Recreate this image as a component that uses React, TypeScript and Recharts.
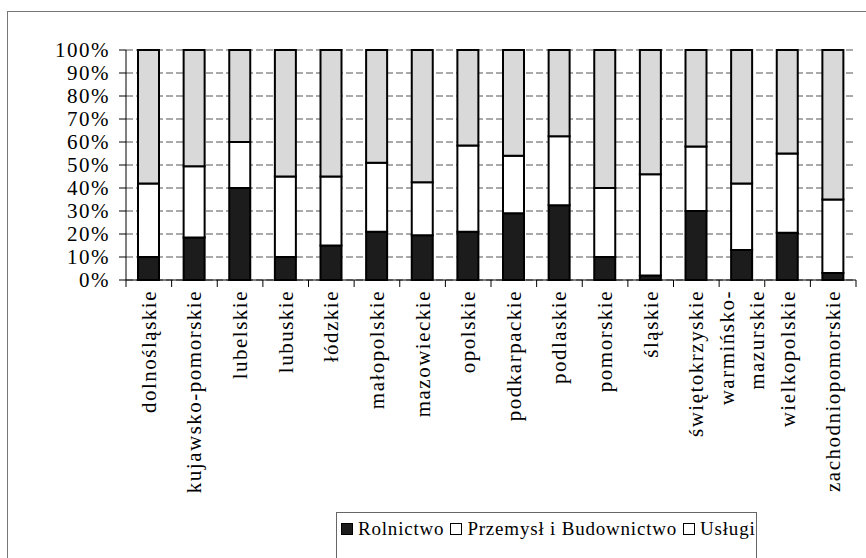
import { Bar, BarChart, CartesianGrid, XAxis, YAxis } from "recharts";

const regions = [
  "dolnośląskie",
  "kujawsko-pomorskie",
  "lubelskie",
  "lubuskie",
  "łódzkie",
  "małopolskie",
  "mazowieckie",
  "opolskie",
  "podkarpackie",
  "podlaskie",
  "pomorskie",
  "śląskie",
  "świętokrzyskie",
  "warmińsko-mazurskie",
  "wielkopolskie",
  "zachodniopomorskie",
];

const rolnictwo = [10, 18.5, 40, 10, 15, 21, 19.5, 21, 29, 32.5, 10, 2, 30, 13, 20.5, 3];
const przemysl = [32, 31, 20, 35, 30, 30, 23, 37.5, 25, 30, 30, 44, 28, 29, 34.5, 32];
const uslugi = [58, 50.5, 40, 55, 55, 49, 57.5, 41.5, 46, 37.5, 60, 54, 42, 58, 45, 65];

const yTicks = [0, 10, 20, 30, 40, 50, 60, 70, 80, 90, 100];

// labels that wrap onto two lines in the original
const wrapped: Record<string, string[]> = {
  "warmińsko-mazurskie": ["warmińsko-", "mazurskie"],
};

const series = [
  { key: "rolnictwo", name: "Rolnictwo", fill: "#1c1c1c", legend: "#1c1c1c" },
  { key: "przemysl", name: "Przemysł i Budownictwo", fill: "#ffffff", legend: "#ffffff" },
  { key: "uslugi", name: "Usługi", fill: "#d9d9d9", legend: "#ffffff" },
];

const data = regions.map((region, i) => ({
  region,
  rolnictwo: rolnictwo[i],
  przemysl: przemysl[i],
  uslugi: uslugi[i],
}));

const W = 866;
const H = 558;
const LEFT = 126;
const RIGHT = 10;
const BAND = (W - LEFT - RIGHT) / regions.length;
const FONT = "'Liberation Serif', 'Times New Roman', serif";

const XTick = (props: any) => {
  const { x, y, payload, index } = props;
  const lines = wrapped[payload.value] ?? [payload.value];
  const gap = 30;
  const start = -((lines.length - 1) * gap) / 2;
  return (
    <g transform={`translate(${x},${y})`}>
      <line x1={-BAND / 2} x2={-BAND / 2} y1={0} y2={7} stroke="#000" />
      {index === regions.length - 1 && <line x1={BAND / 2} x2={BAND / 2} y1={0} y2={7} stroke="#000" />}
      {lines.map((t: string, i: number) => (
        <text
          key={t}
          transform="rotate(-90)"
          x={-10}
          y={start + i * gap + 7}
          textAnchor="end"
          fontSize={21}
          letterSpacing={1.5}
          fontFamily={FONT}
          fill="#000"
        >
          {t}
        </text>
      ))}
    </g>
  );
};

export default function App() {
  return (
    <div style={{ position: "absolute", left: 0, top: 0, width: W, height: H, overflow: "hidden", background: "#fff" }}>
      <div style={{ position: "absolute", left: 7, top: 11, width: W + 20, height: H + 20, borderLeft: "1px solid #777", borderTop: "1px solid #777" }} />
      <BarChart width={W} height={H} data={data} margin={{ top: 50, right: RIGHT, bottom: 0, left: 0 }}>
        <CartesianGrid vertical={false} strokeDasharray="7 3" stroke="#555" />
        <YAxis
          width={LEFT}
          domain={[0, 100]}
          ticks={yTicks}
          interval={0}
          tickFormatter={(v) => `${v}%`}
          tickSize={7}
          tickMargin={9}
          axisLine={{ stroke: "#000" }}
          tickLine={{ stroke: "#000" }}
          tick={{ fontSize: 21, fontFamily: FONT, fill: "#000", letterSpacing: 1.5 }}
        />
        <XAxis
          dataKey="region"
          height={H - 280}
          interval={0}
          tickSize={0}
          tickMargin={0}
          tickLine={false}
          axisLine={{ stroke: "#000" }}
          tick={<XTick />}
        />
        {series.map((s) => (
          <Bar
            key={s.key}
            dataKey={s.key}
            name={s.name}
            stackId="a"
            fill={s.fill}
            stroke="#000"
            strokeWidth={2}
            barSize={21}
            isAnimationActive={false}
          />
        ))}
      </BarChart>
      <div
        style={{
          position: "absolute",
          left: 336,
          top: 512,
          width: 421,
          height: 60,
          borderLeft: "1px solid #666",
          borderTop: "1px solid #666",
          borderRight: "1px solid #666",
          display: "flex",
          alignItems: "flex-start",
          paddingTop: 5,
          paddingLeft: 4,
          boxSizing: "border-box",
          fontFamily: FONT,
          fontSize: 19,
          letterSpacing: 0.8,
          whiteSpace: "nowrap",
        }}
      >
        {series.map((s) => (
          <span key={s.key} style={{ display: "inline-flex", alignItems: "center", marginRight: 6 }}>
            <span
              style={{
                display: "inline-block",
                width: 10,
                height: 10,
                background: s.legend,
                border: "1.5px solid #000",
                marginRight: 5,
              }}
            />
            {s.name}
          </span>
        ))}
      </div>
    </div>
  );
}
